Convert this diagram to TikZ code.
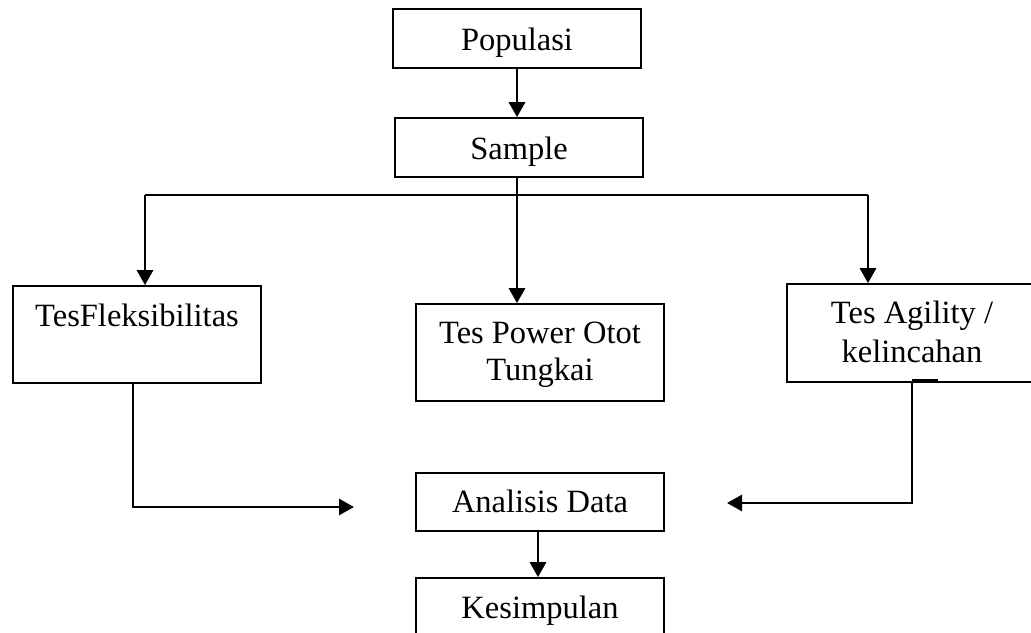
\documentclass[tikz,border=0pt]{standalone}
\usepackage{fontspec}
\setmainfont{Liberation Serif}
\usetikzlibrary{arrows.meta,calc}
\begin{document}
\begin{tikzpicture}[x=1pt,y=-1pt,
  box/.style={draw,line width=1.7pt,inner sep=0pt,rectangle},
  txt/.style={inner sep=0pt,anchor=base,font=\fontsize{32.5}{38}\selectfont},
  conn/.style={line width=2.9pt},
  arr/.style={conn,-{Triangle[width=16pt,length=15pt]}}]
\useasboundingbox[fill=white] (0,0) rectangle (1031,632);
% boxes
\node[box,minimum width=248pt,minimum height=59pt] (pop) at (517,38.5) {};
\node[box,minimum width=248pt,minimum height=59pt] (sample) at (519,147.5) {};
\node[box,minimum width=248pt,minimum height=97pt] (flex) at (137,334.5) {};
\node[box,minimum width=248pt,minimum height=97pt] (power) at (540,352.5) {};
\node[box,minimum width=250pt,minimum height=98pt] (agil) at (912,333) {};
\node[box,minimum width=248pt,minimum height=58pt] (anal) at (540,502) {};
\node[box,minimum width=248pt,minimum height=60pt] (kes) at (540,608) {};
% texts
\node[txt] (tpop) at (517,50) {Populasi};
\node[txt] (tsample) at (519,159) {Sample};
\node[txt] (tflex) at (137,326) {TesFleksibilitas};
\node[txt] (tpow1) at (540,343) {Tes Power Otot};
\node[txt] (tpow2) at (540,380) {Tungkai};
\node[txt] (tag1) at (912,323) {Tes Agility /};
\node[txt] (tag2) at (912,362) {kelincahan};
\node[txt] (tanal) at (540,512) {Analisis Data};
\node[txt] (tkes) at (540,618) {Kesimpulan};
% connectors
\draw[arr] (pop.south) -- (pop.south |- sample.north);
\coordinate (bl) at (145,195);
\coordinate (br) at (868,195);
\draw[conn] (bl) -- (br);
\draw[arr] (bl) -- (bl |- flex.north);
\draw[arr] (br) -- (br |- agil.north);
\draw[arr] ([xshift=-2pt]sample.south) -- ([xshift=-2pt]sample.south |- power.north);
\coordinate (lt) at (354,507);
\draw[arr] ([xshift=-4pt]flex.south) |- (lt);
\coordinate (rt) at (727,503);
\draw[arr] (agil.south) |- (rt);
\draw[conn] ([yshift=2.5pt]agil.south) -- +(26,0);
\draw[arr] ([xshift=-2pt]anal.south) -- ([xshift=-2pt]anal.south |- kes.north);
\end{tikzpicture}
\end{document}
